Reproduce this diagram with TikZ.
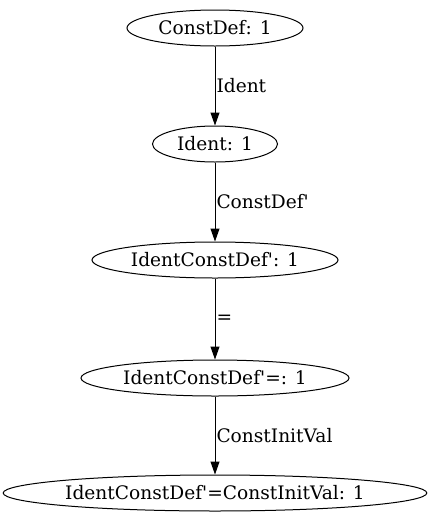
\documentclass[tikz,border=0pt]{standalone}
\usepackage{fontspec}
\setmainfont[Ligatures=TeXOff]{DejaVu Serif}
\usetikzlibrary{shapes.geometric,arrows.meta}

\begin{document}
\begin{tikzpicture}[x=1pt,y=-1pt,line width=1pt,
  state/.style={ellipse,draw,inner sep=0pt,minimum height=36pt,font=\fontsize{18.6}{22}\selectfont},
  edge/.style={-{Triangle[length=13pt,width=9pt]}},
  lbl/.style={right,inner sep=1pt,font=\fontsize{18.6}{22}\selectfont}]
\useasboundingbox (0,0) rectangle (430,523);
\node [state,minimum width=176pt] (cd) at (215,28) {ConstDef: 1};
\node [state,minimum width=125pt] (id) at (215,144) {Ident: 1};
\node [state,minimum width=246pt] (icd) at (215,260) {IdentConstDef': 1};
\node [state,minimum width=268pt] (icde) at (215,378) {IdentConstDef'=: 1};
\node [state,minimum width=419pt] (icdv) at (215,493) {IdentConstDef'=ConstInitVal: 1};
\draw [edge] (cd) -- node [lbl] {Ident} (id);
\draw [edge] (id) -- node [lbl] {ConstDef'} (icd);
\draw [edge] (icd) -- node [lbl] {=} (icde);
\draw [edge] (icde) -- node [lbl] {ConstInitVal} (icdv);
\end{tikzpicture}
\end{document}
